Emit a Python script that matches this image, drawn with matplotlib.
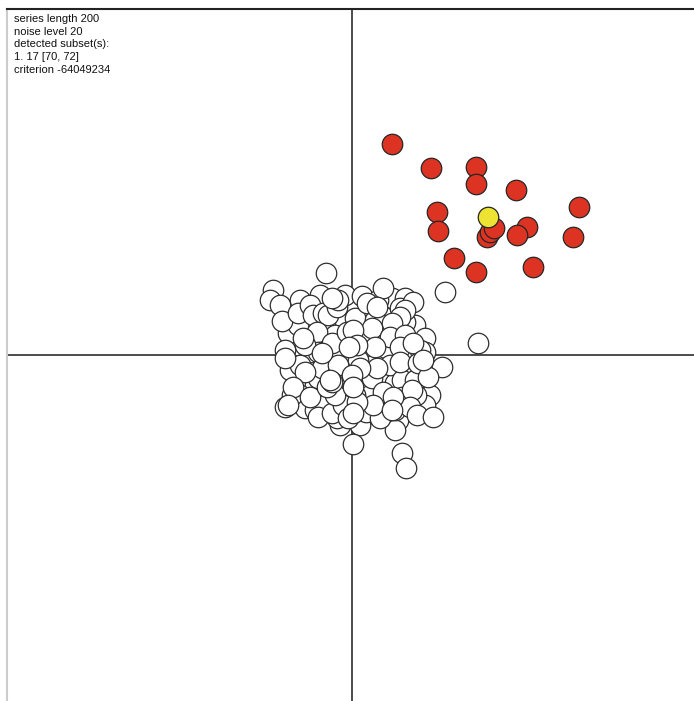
import matplotlib
matplotlib.use("Agg")
import matplotlib.pyplot as plt

# background observations (lower layer first)
white_x = [-57, -44, -12, 8, 33, 43, -2, -27, 10, 28, 43, 58, -52, -40, -24, -7, 13, 33, 43, 58,
           68, -52, -37, -7, 13, 28, 43, -32, -12, 13, 28, 46, -52, -62, -42, -17, 3, 23, 63, 73,
           78, 73, -52, -32, -7, 10, 40, 53, -34, -12, 18, 33, 8, -12, 43, 78, -47, -56, -64, -37,
           10, 30, 56, 20, -5, -24, 34, 64, -54, -7, 14, -32, 38, 3, 50, -15, -40, 73, 26, -60,
           6, 28, 53, -22, -52, 43, 16, -2, 63, -27,
           -26, -79, -82, -72, -70, -54, -42, -39, -29, -24, -15, -14, -20, -35, -20, -5, -67, -34, -47, 31,
           93, 15, 25, 48, 61, 53, 48, 40, 20, 1, 38, 53, 23, 68, 5, 48, 61, -67, -30, -47,
           -59, -42, -67, -64, -34, -20, -9, -17, -25, -17, -14, -4, -20, 48, 66, 90, 76, 25, 8, 0,
           31, 50, 60, 21, 58, 65, 81, 41, 5, 1, 40, 1, 50, 54, 126, -49, -30, -3, 71, -22, 1]
white_y = [35, 30, 35, 40, 43, 55, 50, 30, 17, 20, 10, 0, 0, -7, -5, -3, -2, -3, -17, -20,
           -30, -25, -30, -37, -30, -25, -28, -45, -55, -60, -57, -65, -40, -15, 15, 20, 37, 35, 30, 17,
           -40, -50, 55, 60, 60, 59, 57, 57, -23, 0, -40, -47, -70, -70, -75, -15, -53, 10, 22, -55,
           7, 30, -13, -23, -10, -40, 7, -40, 30, 15, -57, 13, -10, -40, -25, -63, 3, 3, 55, -40,
           -5, -63, 33, -13, -10, -55, 15, -25, -25, -50,
           82, 65, 55, 50, 34, 42, 50, 40, 42, 40, 48, 55, 57, 23, 12, 23, 5, 3, 10, 67,
           63, 52, 48, 47, 53, 45, 38, 32, 27, 25, 18, 20, 8, 5, 10, 8, 12, -3, -13, -17,
           -32, -42, -52, -50, -62, -58, -50, -40, -32, -22, -10, -63, -27, -7, -8, -12, -22, -13, -13, -20,
           -37, -42, -35, -50, -52, -60, -62, -42, -47, -58, -55, -89, -98, -113, 12, 17, 2, 8, -5, -25, -32]

# detected subset
subset_x = [40, 79, 124, 124, 164, 227, 85, 86, 135, 138, 142, 175, 165, 221, 102, 124, 181]
subset_y = [211, 187, 188, 171, 165, 148, 143, 124, 118, 123, 127, 128, 120, 118, 97, 83, 88]

# current point
current_x = [136]
current_y = [138]

info_lines = ["series length 200", "noise level 20", "detected subset(s):",
              "1. 17 [70, 72]", "criterion -64049234"]

fig = plt.figure(figsize=(6.94, 7.01), dpi=100)
ax = fig.add_axes([7 / 694, 0, 687 / 694, 692 / 701])
ax.set_xlim(-345, 342)
ax.set_ylim(-346, 346)
ax.set_xticks([])
ax.set_yticks([])
for side in ["right", "bottom"]:
    ax.spines[side].set_visible(False)
ax.spines["top"].set_color("#222222")
ax.spines["top"].set_linewidth(1.5)
ax.spines["left"].set_color("#cccccc")
ax.spines["left"].set_linewidth(1.5)

ax.axhline(0, color="#2e2e2e", lw=1.2, zorder=1)
ax.axvline(0, color="#2e2e2e", lw=1.2, zorder=1)

msize = 218
ax.scatter(white_x, white_y, s=msize, facecolor="white", edgecolor="#2e2e2e", linewidth=0.9, zorder=2)
ax.scatter(subset_x, subset_y, s=msize, facecolor="#dc3322", edgecolor="#262626", linewidth=0.9, zorder=3)
ax.scatter(current_x, current_y, s=msize, facecolor="#ece332", edgecolor="#262626", linewidth=0.9, zorder=4)

fig.text(14 / 694, 1 - 14 / 701, "\n".join(info_lines), ha="left", va="top",
         fontsize=8, family="Liberation Sans", linespacing=1.34, color="#111111")

fig.savefig("out.png", dpi=100, facecolor="white")
